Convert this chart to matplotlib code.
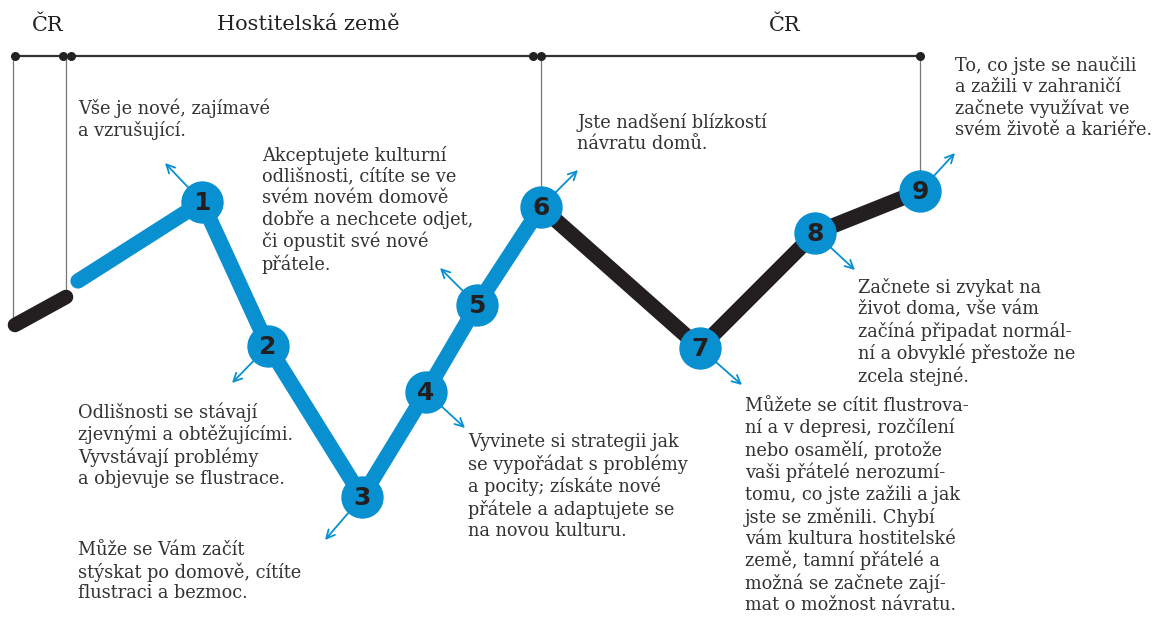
import matplotlib.pyplot as plt

# stages of the culture-shock curve (pixel-like coordinates, y grows downwards)
stage_num = ["1", "2", "3", "4", "5", "6", "7", "8", "9"]
stage_x = [202, 268, 362, 426, 477, 541, 700, 815, 920]
stage_y = [202, 346, 497, 392, 305, 207, 348, 233, 191]

# short lead-in segments before point 1
home_x = [15, 66]
home_y = [325, 297]
start_x = 78
start_y = 281

# arrow tips for each stage
tip_x = [165, 232, 325, 465, 440, 578, 742, 855, 955]
tip_y = [163, 383, 540, 428, 268, 170, 385, 270, 153]

# timeline on top
bar_y = 56
bar_dots = [15, 63, 71, 533, 541, 920]
drop_x = [13, 66, 541, 920]
drop_bottom = [325, 297, 207, 191]
phase_labels = ["ČR", "Hostitelská země", "ČR"]
phase_x = [48, 308, 785]

texts = [
    "Vše je nové, zajímavé\na vzrušující.",
    "Odlišnosti se stávají\nzjevnými a obtěžujícími.\nVyvstávají problémy\na objevuje se flustrace.",
    "Může se Vám začít\nstýskat po domově, cítíte\nflustraci a bezmoc.",
    "Vyvinete si strategii jak\nse vypořádat s problémy\na pocity; získáte nové\npřátele a adaptujete se\nna novou kulturu.",
    "Akceptujete kulturní\nodlišnosti, cítíte se ve\nsvém novém domově\ndobře a nechcete odjet,\nči opustit své nové\npřátele.",
    "Jste nadšení blízkostí\nnávratu domů.",
    "Můžete se cítit flustrova-\nní a v depresi, rozčílení\nnebo osamělí, protože\nvaši přátelé nerozumí-\ntomu, co jste zažili a jak\njste se změnili. Chybí\nvám kultura hostitelské\nzemě, tamní přátelé a\nmožná se začnete zají-\nmat o možnost návratu.",
    "Začnete si zvykat na\nživot doma, vše vám\nzačíná připadat normál-\nní a obvyklé přestože ne\nzcela stejné.",
    "To, co jste se naučili\na zažili v zahraničí\nzačnete využívat ve\nsvém životě a kariéře.",
]
text_x = [78, 78, 78, 468, 262, 577, 745, 858, 955]
text_y = [98, 402, 541, 433, 146, 113, 397, 278, 56]

blue = "#0990d0"
dark = "#231f20"

fig = plt.figure(figsize=(11.61, 6.18), dpi=100)
ax = fig.add_axes([0, 0, 1, 1])
ax.set_xlim(0, 1161)
ax.set_ylim(618, 0)
ax.axis("off")

# timeline
ax.plot([bar_dots[0], bar_dots[-1]], [bar_y, bar_y], color="#333333", lw=1.6, zorder=1)
ax.scatter(bar_dots, [bar_y] * len(bar_dots), s=30, color="#222222", zorder=2)
for x, yb in zip(drop_x, drop_bottom):
    ax.plot([x, x], [bar_y, yb], color="#777777", lw=0.9, zorder=1)
for lab, x in zip(phase_labels, phase_x):
    ax.text(x, 25, lab, ha="center", va="center", fontsize=15,
            family="DejaVu Serif", color="#222222")

# curve
ax.plot(home_x, home_y, color=dark, lw=10.5, solid_capstyle="round", zorder=3)
ax.plot([start_x] + stage_x[:6], [start_y] + stage_y[:6], color=blue, lw=11,
        solid_capstyle="round", solid_joinstyle="round", zorder=3)
ax.plot(stage_x[5:], stage_y[5:], color=dark, lw=11,
        solid_capstyle="round", solid_joinstyle="round", zorder=3)

# arrows
for x, y, tx, ty in zip(stage_x, stage_y, tip_x, tip_y):
    ax.annotate("", xy=(tx, ty), xytext=(x, y),
                arrowprops=dict(arrowstyle="->", color=blue, lw=1.3,
                                mutation_scale=15, shrinkA=0, shrinkB=0),
                zorder=2)

# circles with numbers
ax.scatter(stage_x, stage_y, s=930, color=blue, zorder=4, linewidths=0)
for n, x, y in zip(stage_num, stage_x, stage_y):
    ax.text(x, y + 1, n, ha="center", va="center", fontsize=18,
            fontweight="bold", color=dark, family="DejaVu Sans", zorder=5)

# descriptions
for t, x, y in zip(texts, text_x, text_y):
    ax.text(x, y, t, ha="left", va="top", fontsize=12.8, family="DejaVu Serif",
            color="#333333", linespacing=1.2)

fig.savefig("out.png", dpi=100)
